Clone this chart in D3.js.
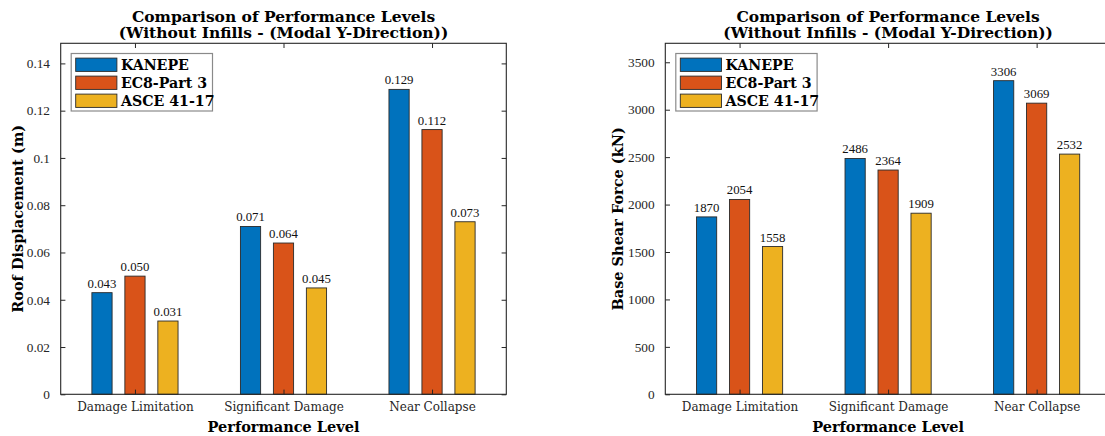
<!DOCTYPE html>
<html>
<head>
<meta charset="utf-8">
<script src="https://cdn.jsdelivr.net/npm/d3@7/dist/d3.min.js"></script>
<style>
  html, body { margin: 0; padding: 0; background: #fff; }
  svg { display: block; }
  .num { font-family: "Liberation Serif", "Times New Roman", serif; }
  .word { font-family: "DejaVu Serif", serif; }
</style>
</head>
<body>
<div id="chart"></div>
<script>
// Performance levels on the x axis
const categories = ["Damage Limitation", "Significant Damage", "Near Collapse"];
const seriesNames = ["KANEPE", "EC8-Part 3", "ASCE 41-17"];
const seriesColors = ["#0072BD", "#D95319", "#EDB120"];

// Roof displacement (m)
const roofKanepe = [0.043, 0.071, 0.129];
const roofEc8 = [0.050, 0.064, 0.112];
const roofAsce = [0.031, 0.045, 0.073];
const roofTicks = [0, 0.02, 0.04, 0.06, 0.08, 0.1, 0.12, 0.14];

// Base shear force (kN)
const shearKanepe = [1870, 2486, 3306];
const shearEc8 = [2054, 2364, 3069];
const shearAsce = [1558, 1909, 2532];
const shearTicks = [0, 500, 1000, 1500, 2000, 2500, 3000, 3500];

const titleLines = ["Comparison of Performance Levels", "(Without Infills - (Modal Y-Direction))"];

const W = 1105, H = 436;
const AXIS_COLOR = "#262626";

const svg = d3.select("#chart").append("svg")
  .attr("width", W).attr("height", H)
  .attr("viewBox", `0 0 ${W} ${H}`);
svg.append("rect").attr("width", W).attr("height", H).attr("fill", "#fff");

const panels = [
  {
    x0: 60.7, x1: 506.3, yMax: 0.1485,
    series: [roofKanepe, roofEc8, roofAsce],
    ticks: roofTicks, tickFmt: d3.format("~g"), valFmt: d3.format(".3f"),
    yLabel: "Roof Displacement (m)", yLabelX: 23.3
  },
  {
    x0: 665.3, x1: 1110.9, yMax: 3700,
    series: [shearKanepe, shearEc8, shearAsce],
    ticks: shearTicks, tickFmt: d3.format("d"), valFmt: d3.format("d"),
    yLabel: "Base Shear Force (kN)", yLabelX: 623.3
  }
];

const Y0 = 43.3, Y1 = 394.3;
const groupOffsets = [-0.222, 0, 0.222];
const barWidth = 0.136;
const tickLen = 4.7;

panels.forEach(p => {
  const x = d3.scaleLinear().domain([0.5, 3.5]).range([p.x0, p.x1]);
  const y = d3.scaleLinear().domain([0, p.yMax]).range([Y1, Y0]);
  const g = svg.append("g");

  // bars with value labels
  p.series.forEach((vals, si) => {
    g.selectAll(null).data(vals).enter().append("rect")
      .attr("x", (d, i) => x(i + 1 + groupOffsets[si] - barWidth / 2))
      .attr("width", x(1 + barWidth) - x(1))
      .attr("y", d => y(d))
      .attr("height", d => y(0) - y(d))
      .attr("fill", seriesColors[si])
      .attr("stroke", "#2a2a2a")
      .attr("stroke-width", 0.9);

    g.selectAll(null).data(vals).enter().append("text")
      .attr("class", "num")
      .attr("x", (d, i) => x(i + 1 + groupOffsets[si]))
      .attr("y", d => y(d) - 5)
      .attr("text-anchor", "middle")
      .style("font-size", "12.8px")
      .attr("fill", "#111")
      .text(d => p.valFmt(d));
  });

  // y axis (left) with inward ticks
  const yAxisL = d3.axisLeft(y).tickValues(p.ticks).tickFormat(p.tickFmt)
    .tickSizeInner(-tickLen).tickSizeOuter(0).tickPadding(6 + tickLen);
  const gyl = g.append("g").attr("transform", `translate(${p.x0},0)`).call(yAxisL);
  gyl.attr("font-family", null).attr("font-size", null);
  gyl.select(".domain").remove();
  gyl.selectAll("line").attr("stroke", AXIS_COLOR);
  gyl.selectAll("text").attr("class", "num").style("font-size", "13.3px").attr("fill", AXIS_COLOR);

  // y axis (right) ticks only
  const yAxisR = d3.axisRight(y).tickValues(p.ticks).tickFormat("")
    .tickSizeInner(-tickLen).tickSizeOuter(0);
  const gyr = g.append("g").attr("transform", `translate(${p.x1},0)`).call(yAxisR);
  gyr.select(".domain").remove();
  gyr.selectAll("line").attr("stroke", AXIS_COLOR);

  // x axis (bottom) with category labels
  const xAxisB = d3.axisBottom(x).tickValues([1, 2, 3]).tickFormat(i => categories[i - 1])
    .tickSizeInner(-tickLen).tickSizeOuter(0);
  const gxb = g.append("g").attr("transform", `translate(0,${Y1})`).call(xAxisB);
  gxb.attr("font-family", null).attr("font-size", null);
  gxb.select(".domain").remove();
  gxb.selectAll("line").attr("stroke", AXIS_COLOR);
  gxb.selectAll("text").attr("class", "word")
    .attr("y", 16.7).attr("dy", null)
    .style("font-size", "12px").attr("fill", AXIS_COLOR);

  // x axis (top) ticks only
  const xAxisT = d3.axisTop(x).tickValues([1, 2, 3]).tickFormat("")
    .tickSizeInner(-tickLen).tickSizeOuter(0);
  const gxt = g.append("g").attr("transform", `translate(0,${Y0})`).call(xAxisT);
  gxt.select(".domain").remove();
  gxt.selectAll("line").attr("stroke", AXIS_COLOR);

  // box
  g.append("rect")
    .attr("x", p.x0).attr("y", Y0)
    .attr("width", p.x1 - p.x0).attr("height", Y1 - Y0)
    .attr("fill", "none").attr("stroke", AXIS_COLOR).attr("stroke-width", 1.1);

  // title
  const cx = (p.x0 + p.x1) / 2;
  titleLines.forEach((t, i) => {
    g.append("text")
      .attr("class", "word")
      .attr("x", cx).attr("y", 22.4 + i * 15.2)
      .attr("text-anchor", "middle")
      .attr("font-weight", "bold")
      .style("font-size", "15.5px").attr("fill", "#000")
      .text(t);
  });

  // axis labels
  g.append("text")
    .attr("class", "word")
    .attr("x", cx).attr("y", 431.5)
    .attr("text-anchor", "middle")
    .attr("font-weight", "bold")
    .style("font-size", "14.5px").attr("fill", "#000")
    .text("Performance Level");

  g.append("text")
    .attr("class", "word")
    .attr("transform", `translate(${p.yLabelX},${(Y0 + Y1) / 2}) rotate(-90)`)
    .attr("text-anchor", "middle")
    .attr("font-weight", "bold")
    .style("font-size", "14.5px").attr("fill", "#000")
    .text(p.yLabel);

  // legend
  const lx = p.x0 + 10.5, ly = 53.5;
  const lg = g.append("g").attr("transform", `translate(${lx},${ly})`);
  lg.append("rect").attr("width", 141.3).attr("height", 57.5)
    .attr("fill", "#fff").attr("stroke", "#8a8a8a").attr("stroke-width", 1.2);
  seriesNames.forEach((name, si) => {
    const rowY = 11.2 + si * 18;
    lg.append("rect")
      .attr("x", 4.5).attr("y", rowY - 6.6)
      .attr("width", 41.2).attr("height", 13.3)
      .attr("fill", seriesColors[si]).attr("stroke", "#2a2a2a").attr("stroke-width", 0.9);
    lg.append("text")
      .attr("class", "word")
      .attr("x", 49.7).attr("y", rowY + 5)
      .attr("font-weight", "bold")
      .style("font-size", "14.2px").attr("fill", "#000")
      .text(name);
  });
});
</script>
</body>
</html>
